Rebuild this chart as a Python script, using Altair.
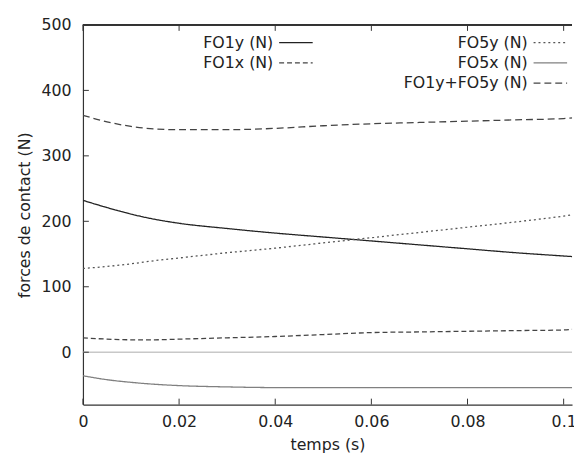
import altair as alt
import pandas as pd

# ---- data ----
t = [0, 0.005, 0.01, 0.015, 0.02, 0.03, 0.04, 0.05, 0.06, 0.07, 0.08, 0.09, 0.1, 0.102]
fo1y = [232, 221, 211, 203, 197, 189, 182, 176, 170, 164, 158, 152, 147, 146]
fo1x = [22, 20, 19, 19, 20, 22, 24, 27, 30, 31, 32, 33, 34, 35]
fo5y = [128, 131, 135, 140, 144, 152, 159, 167, 175, 183, 191, 199, 208, 210]
fo5x = [-36, -42, -46, -49, -51, -53, -54, -54, -54, -54, -54, -54, -54, -54]
fosum = [362, 352, 345, 341, 340, 340, 342, 346, 349, 351, 353, 355, 357, 358]
series_names = ["FO1y (N)", "FO1x (N)", "FO5y (N)", "FO5x (N)", "FO1y+FO5y (N)"]
x_ticks = [0, 0.02, 0.04, 0.06, 0.08, 0.1]
y_ticks = [0, 100, 200, 300, 400, 500]

# ---- layout ----
W, H = 496, 385
XMAX = W / 4875.0
YMIN, YMAX = -80, 500
FONT = "DejaVu Sans"
FS = 16

rows = []
for name, vals in zip(series_names, [fo1y, fo1x, fo5y, fo5x, fosum]):
    for ti, v in zip(t, vals):
        rows.append({"t": ti, "v": v, "s": name})
df = pd.DataFrame(rows)

xs = alt.Scale(domain=[0, XMAX], nice=False, zero=False)
ys = alt.Scale(domain=[YMIN, YMAX], nice=False, zero=False)
x_axis = alt.Axis(values=x_ticks, title="temps (s)", format="~g",
                  tickSize=0, labelPadding=9, labelFlush=False,
                  grid=False, titlePadding=8)
y_axis = alt.Axis(values=y_ticks, title="forces de contact (N)",
                  tickSize=0, labelPadding=12, grid=False, titlePadding=9)
dash_scale = alt.Scale(domain=series_names,
                       range=[[1, 0], [5, 3], [2, 3], [1, 0], [7, 4]])
color_scale = alt.Scale(domain=series_names,
                        range=["#222222", "#444444", "#555555", "#808080", "#444444"])

lines = alt.Chart(df).mark_line(strokeWidth=1.3, clip=True,
                                interpolate="monotone").encode(
    x=alt.X("t:Q", scale=xs, axis=x_axis),
    y=alt.Y("v:Q", scale=ys, axis=y_axis),
    color=alt.Color("s:N", scale=color_scale, legend=None),
    strokeDash=alt.StrokeDash("s:N", scale=dash_scale, legend=None),
    detail="s:N",
)

zero_line = alt.Chart(pd.DataFrame({"v": [0]})).mark_rule(
    color="#c8c8c8", strokeWidth=1.5).encode(
    y=alt.Y("v:Q", scale=ys, axis=y_axis))

xt = pd.DataFrame({"t": x_ticks})
yt = pd.DataFrame({"v": y_ticks})
tick_bottom = alt.Chart(xt).mark_rule(color="#333").encode(
    x=alt.X("t:Q", scale=xs, axis=x_axis), y=alt.value(H), y2=alt.value(H - 6))
tick_top = alt.Chart(xt).mark_rule(color="#333").encode(
    x=alt.X("t:Q", scale=xs, axis=x_axis), y=alt.value(0), y2=alt.value(6))
tick_left = alt.Chart(yt).mark_rule(color="#333").encode(
    y=alt.Y("v:Q", scale=ys, axis=y_axis), x=alt.value(0), x2=alt.value(6))
top_border = alt.Chart(xt).mark_rule(color="#333", strokeWidth=1.2).encode(
    x=alt.value(0), x2=alt.value(W), y=alt.value(0))

# ---- gnuplot-style key (label right-aligned, sample to its right) ----
col_of = [0, 0, 1, 1, 1]
row_of = [0, 1, 0, 1, 2]
text_end_px = [193, 451]
row_px = [18, 38.5, 59]
leg = []
for name, c, r in zip(series_names, col_of, row_of):
    px_end = text_end_px[c]
    py = row_px[r]
    leg.append({
        "s": name,
        "t": px_end / W * XMAX,
        "sx0": (px_end + 6) / W * XMAX,
        "sx1": (px_end + 40) / W * XMAX,
        "v": YMAX - py / H * (YMAX - YMIN),
    })
legdf = pd.DataFrame(leg)

leg_text = alt.Chart(legdf).mark_text(
    align="right", baseline="middle", font=FONT, fontSize=FS, color="#222").encode(
    x=alt.X("t:Q", scale=xs, axis=x_axis),
    y=alt.Y("v:Q", scale=ys, axis=y_axis),
    text="s:N")
leg_sample = alt.Chart(legdf).mark_rule(strokeWidth=1.3).encode(
    x=alt.X("sx0:Q", scale=xs, axis=x_axis),
    x2="sx1:Q",
    y=alt.Y("v:Q", scale=ys, axis=y_axis),
    color=alt.Color("s:N", scale=color_scale, legend=None),
    strokeDash=alt.StrokeDash("s:N", scale=dash_scale, legend=None))

chart = alt.layer(
    lines, zero_line, tick_bottom, tick_top, tick_left, top_border,
    leg_text, leg_sample
).properties(
    width=W, height=H,
    autosize=alt.AutoSizeParams(type="none"),
    padding={"left": 76, "top": 14, "right": 2, "bottom": 52},
).configure_view(stroke=None).configure_axis(
    labelFont=FONT, labelFontSize=FS, labelColor="#222",
    titleFont=FONT, titleFontSize=FS, titleColor="#222",
    titleFontWeight="normal", domainColor="#333", domainWidth=1.2,
)

chart.save("out.html", embed_options={"renderer": "svg", "actions": False})
